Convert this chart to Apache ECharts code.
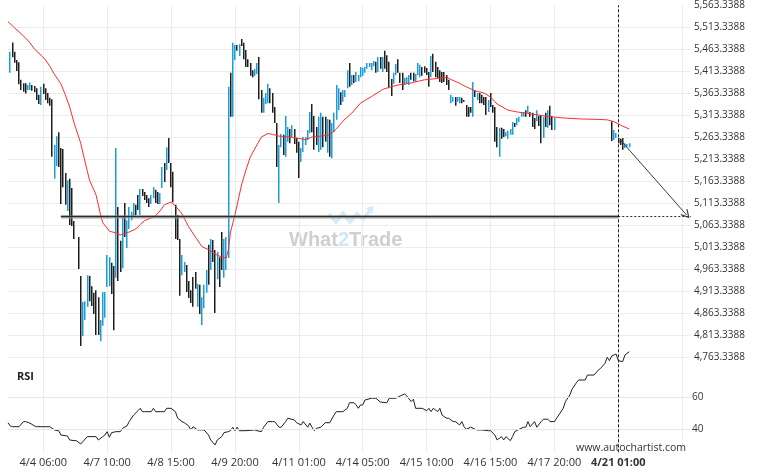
<!DOCTYPE html>
<html><head><meta charset="utf-8">
<script src="https://cdn.jsdelivr.net/npm/echarts@6/dist/echarts.min.js"></script>
<style>html,body{margin:0;padding:0;background:#fff}#c{width:760px;height:475px}</style>
</head><body><div id="c"></div>
<script>
// x tick labels (every 29 hourly bars, starting at bar 16)
const tickLabels = ['4/4 06:00','4/7 10:00','4/8 15:00','4/9 20:00','4/11 01:00','4/14 05:00','4/15 10:00','4/16 15:00','4/17 20:00','4/21 01:00'];
const firstTickBar = 16, barsPerTick = 29, barSlots = 311;
// price bars [open, close], starting at bar 1 (null = no bar)
const barsA = [
[5410,5458],[5479,5445],[5458,5433],[5439,5414],[5434,5384],[5394,5371],[5386,5367],[5386,5363],[5371,5382],[5371,5388],
[5382,5369],[5380,5366],[5375,5348],[5360,5339],[5337,5378],[5385,5362],[5375,5348],[5364,5341],[5353,5335],[5350,5219],
[5169,5246],[5198,5266],[5275,5196],[5239,5112],[5237,5150],[5182,5110],[5096,5166],[5169,5064],[5148,5062],[5073,5032],
null,[5037,4964],[4948,4789],[4812,4889],[4848,4891],[4878,4950],[4948,4891],[4925,4880],[4910,4862],[4916,4814],
[4900,4814],[4800,4848],[4835,4912],[4853,4912],[4923,4996],[4925,4991],[4978,4907],[4971,4825],[4944,5239],[5105,4937],
[5028,4957],[4966,5082],[5114,5037],[5012,5075],[5055,5105],[5075,5094],[5082,5114],[5110,5087],[5132,5098],[5087,5146],
[5146,5130],[5139,5121],[5132,5114],[5125,5105],[5112,5132],[5125,5150],[5144,5114],[5139,5112],[5112,5137],[5148,5196],
[5205,5162],[5189,5241],[5262,5205],[5205,5150],[5185,5116],[5110,5032],[5087,5030],[5032,4903],[4950,4996],[4957,4980],
[4973,4912],[4937,4898],[4916,4887],[4946,4878],[4957,4919],[4878,4930],[4928,4862],[4837,4900],[4875,4928],[4910,4962],
[5019,4928],[4962,5032],[5030,4980],[5007,4864],[4941,5003],[4991,4923],[5048,4962],[4944,5032],[4962,5037],[4989,5378],
[5410,5310],[5310,5478],[5439,5473],[5473,5460],[5448,5475],[5487,5471],[5478,5441],[5462,5423],[5441,5423],[5432,5403],
[5416,5400],[5403,5419],[5407,5432],[5446,5350],[5371,5319],[5319,5353],[5339,5364],[5341,5385],[5375,5341],[5364,5319],
[5332,5296],[5296,5196],[5114,5246],[5241,5271],[5269,5223],[5219,5312],[5253,5287],[5282,5250],[5264,5291],[5282,5248],
[5262,5228],[5253,5171],[5207,5239],[5230,5264],[5246,5264],[5257,5280],[5273,5321],[5339,5275],[5312,5235],[5287,5246],
[5230,5310],[5235,5319],[5310,5241],[5310,5253],[5228,5305],[5303,5219],[5216,5296],[5275,5319],[5303,5382],[5325,5375],
[5366,5337],[5344,5371],[5355,5371],[5375,5416],[5432,5378],[5382,5405],[5405,5387],[5389,5412],[5391,5405],[5400,5423],
[5403,5421],[5410,5423],[5419,5432],[5423,5432],[5416,5432],[5425,5437],[5435,5410],[5412,5446],[5446,5419],[5412,5446],
[5460,5419],[5450,5412],[5435,5375],[5396,5357],[5385,5410],[5405,5430],[5441,5410],[5410,5387],[5410,5371],[5382,5398],
[5387,5400],[5382,5405],[5410,5394],[5410,5391],[5389,5407],[5405,5432],[5400,5428],[5423,5403],[5425,5410],[5421,5405],
[5412,5378],[5400,5448],[5453,5412],[5435,5400],[5423,5398],[5416,5389],[5412,5387],[5412,5389],[5405,5382],[5394,5371],
[5341,5360],[5344,5355],[5355,5335],[5344,5355],[5341,5355],[5353,5341],[5348,5344],[5337,5310],[5332,5310],[5332,5319],
[5310,5389],[5371,5355],[5348,5364],[5364,5341],[5360,5341],[5355,5337],[5355,5314],[5321,5348],[5364,5332],[5337,5319],
[5332,5253],[5287,5241],[5219,5285],[5285,5260],[5282,5264],[5266,5275],[5260,5278],[5269,5282],[5269,5298],[5296,5287],
[5291,5307],[5298,5310],[5310,5319],[5310,5321],[5325,5310],[5319,5335],[5321,5310],[5319,5287],[5307,5282],[5300,5325],
[5312,5289],[5314,5250],[5262,5310],[5319,5287],[5285,5325],[5335,5291],[5312,5280],[5280,5307]
];
const barsAStart = 1;
const barsB = [[5300,5255],[5257,5280],[5262,5273],[5262,5250],[5260,5246],[5262,5235],[5239,5250],[5241,5248],[5241,5250]];
const barsBStart = 274;
// moving average [bar, price]
const maPts = [[0,5526],[3,5512],[5,5503],[8,5489],[10,5478],[12,5464],[15,5450],[17,5439],[19,5425],[21,5407],[24,5385],[26,5360],[28,5332],[30,5296],[33,5250],[35,5207],[37,5166],[40,5132],[42,5087],[43,5069],[45,5057],[46,5050],[49,5046],[51,5041],[53,5045],[55,5048],[58,5055],[60,5065],[62,5074],[65,5080],[67,5085],[69,5096],[71,5110],[74,5116],[76,5107],[79,5089],[82,5060],[85,5037],[88,5015],[91,5008],[94,4998],[97,4991],[99,4989],[100,5007],[101,5048],[103,5087],[106,5155],[108,5189],[110,5219],[113,5246],[115,5264],[118,5272],[120,5270],[123,5266],[126,5265],[129,5263],[132,5261],[135,5258],[138,5264],[142,5266],[146,5269],[149,5282],[151,5294],[153,5305],[156,5318],[160,5341],[165,5356],[170,5372],[173,5377],[177,5382],[183,5387],[189,5394],[195,5397],[199,5400],[201,5395],[205,5386],[208,5378],[212,5369],[216,5364],[219,5355],[222,5339],[227,5325],[231,5321],[237,5317],[242,5313],[246,5310],[253,5307],[260,5305],[268,5304],[272,5303],[275,5299],[278,5291],[282,5282]];
// RSI [bar, value]
const rsiPts = [[0,44.1],[1,42.1],[2,41.6],[5,41.6],[7,44.8],[8,44.8],[10,43.8],[12,42.1],[13,41.6],[16,41.6],[19,41.6],[21,39.6],[23,39.1],[24,36.4],[27,35.8],[28,33.3],[30,32.9],[31,32.9],[33,30.8],[34,32.3],[36,35.4],[39,35.4],[40,35.4],[41,33.3],[43,35.4],[44,36.4],[45,38.5],[46,35],[47,37.9],[49,38.5],[51,38.5],[52,40.6],[54,42.1],[55,44.8],[57,48.9],[59,51.6],[60,53.1],[61,51],[62,51],[65,51],[66,53.1],[67,51],[69,51],[71,51],[72,53.1],[74,53.1],[76,51],[77,46.9],[79,44.8],[80,44.1],[82,42.1],[83,39.6],[84,41.6],[86,39.6],[87,39.6],[89,39.6],[91,36.4],[92,33.3],[94,30.2],[95,33.3],[97,35.4],[98,37.9],[100,38.5],[101,39.1],[102,41.3],[103,39.1],[104,41.3],[105,39.1],[108,39.1],[112,39.6],[113,39.1],[115,38.5],[116,41.3],[118,44.8],[120,44.8],[121,44.8],[123,41.3],[124,41.3],[126,44.8],[127,46.9],[130,45.8],[131,44.1],[133,42.7],[134,44.8],[136,41.3],[137,43.8],[138,41.3],[139,39.1],[140,40.6],[142,41.3],[144,44.1],[146,44.1],[148,48.9],[149,51],[152,51],[153,52.1],[154,53.1],[155,56.6],[157,56.6],[158,55.2],[159,53.1],[160,55.2],[161,55.2],[162,58.3],[165,59.4],[167,59.4],[169,57],[172,56.6],[173,59.4],[176,59.4],[178,60.8],[180,62.1],[181,60.8],[183,57.3],[184,58.8],[185,53.1],[188,53.1],[190,51.6],[191,53.1],[192,51],[193,53.1],[195,51],[196,53.1],[197,48.9],[199,46.9],[200,46.9],[202,44.8],[203,44.8],[205,42.7],[206,44.8],[207,41.6],[208,40],[210,41.3],[212,40],[213,39.6],[215,39.6],[218,39.1],[219,39.1],[221,36.4],[222,33.3],[224,35.4],[225,33.3],[226,35.4],[228,32.9],[229,35.4],[230,38.5],[232,40],[234,41.3],[235,41.3],[236,44.8],[237,41.6],[239,44.8],[240,41.3],[242,44.8],[243,46.3],[245,46.3],[246,44.8],[248,44.8],[250,48.9],[252,53.1],[253,57.3],[255,61.4],[256,65],[258,69.1],[259,70.8],[262,70.8],[263,73.9],[266,73.9],[268,77.1],[269,78.1],[271,81.3],[272,85],[273,82.9],[274,85.8],[276,87.1],[277,82.9],[279,82.3],[280,86.4],[282,88.5]];
// annotations
const levelPrice = 5083.8, levelStartBar = 24, nowBar = 277;
const arrowFrom = [278, 5257.2], arrowTo = [308, 5086.8];
const rsiLevels = [40, 60];
const priceLabelOffset = 13.3388; // axis labels are x,x13.3388

const OFF = priceLabelOffset;
const UP = '#1a9ddb', DOWN = '#1e1e1e';
const cats = Array.from({length: barSlots}, (_, i) => 'b' + i);
const barData = [];
function put(list, start){ list.forEach((b,k)=>{ if(!b) return; const [o,c]=b; barData.push([start+k, o-OFF, c-OFF]); }); }
put(barsA, barsAStart); put(barsB, barsBStart);
const isTick = i => i >= firstTickBar && (i - firstTickBar) % barsPerTick === 0;
const FONT = "'Open Sans', sans-serif";
const fmtPrice = v => (v + OFF).toLocaleString('en-US',{minimumFractionDigits:4,maximumFractionDigits:4});
const arrowHead = 'path://M5,0 L10,9 L9,10 L5,2.6 L1,10 L0,9 Z';

function renderBar(params, api){
  const i = api.value(0), o = api.value(1), c = api.value(2);
  const p1 = api.coord([i, o]), p2 = api.coord([i, c]);
  const x = Math.round(p1[0] - 0.75);
  const y = Math.min(p1[1], p2[1]), h = Math.max(1, Math.abs(p2[1] - p1[1]));
  return {type:'rect', shape:{x:x, y:y, width:1.5, height:h}, style:{fill: c >= o ? UP : DOWN}};
}

const chart = echarts.init(document.getElementById('c'), null, {renderer:'canvas'});
chart.setOption({
  animation:false,
  grid:[{left:8,right:69,top:5.3,bottom:117.7},{left:8,right:69,top:357.3,bottom:22.7}],
  xAxis:[
    {type:'category',gridIndex:0,data:cats,boundaryGap:false,axisLine:{show:false},axisTick:{show:false},axisLabel:{show:false},
     splitLine:{show:true,interval:(i)=>isTick(i),lineStyle:{color:'#ececec',width:1}}},
    {type:'category',gridIndex:1,data:cats,boundaryGap:false,axisLine:{show:false},axisTick:{show:false},
     axisLabel:{show:true,interval:(i)=>isTick(i),margin:5,color:'#333',fontSize:11,fontFamily:FONT,
       formatter:(v,i)=>{const k=(i-firstTickBar)/barsPerTick; const t=tickLabels[k]; return k===tickLabels.length-1?'{b|'+t+'}':t;},
       rich:{b:{fontWeight:'bold',fontSize:11,fontFamily:FONT,color:'#333'}}},
     splitLine:{show:true,interval:(i)=>isTick(i),lineStyle:{color:'#ececec',width:1}}}
  ],
  yAxis:[
    {type:'value',gridIndex:0,position:'right',min:4750,max:5550,interval:50,scale:true,axisLine:{show:false},axisTick:{show:false},
     axisLabel:{margin:3,color:'#333',fontSize:10,fontFamily:FONT,formatter:fmtPrice},
     splitLine:{show:true,showMaxLine:false,lineStyle:{color:'#ececec',width:1}}},
    {type:'value',gridIndex:1,position:'right',min:25.6,max:85,axisLine:{show:false},axisTick:{show:false},axisLabel:{show:false},splitLine:{show:false}}
  ],
  series:[
    {type:'custom',xAxisIndex:0,yAxisIndex:0,data:barData,renderItem:renderBar,encode:{x:0,y:[1,2]},z:2},
    {type:'line',xAxisIndex:0,yAxisIndex:0,data:maPts.map(([i,p])=>[i,p-OFF]),showSymbol:false,symbol:'none',
     lineStyle:{color:'#ff2b2b',width:1},z:3,
     markLine:{silent:true,symbol:'none',label:{show:false},animation:false,data:[
       [{coord:[levelStartBar,levelPrice-OFF],lineStyle:{color:'#a0a0a0',width:3.6,type:'solid',opacity:0.65}},{coord:[nowBar,levelPrice-OFF]}],
       [{coord:[levelStartBar,levelPrice-OFF],lineStyle:{color:'#2a2a2a',width:1.4,type:'solid'}},{coord:[nowBar,levelPrice-OFF]}],
       [{coord:[nowBar,levelPrice-OFF],lineStyle:{color:'#123247',width:1,type:[2,2]}},{coord:[barSlots-1,levelPrice-OFF]}],
       {xAxis:nowBar,lineStyle:{color:'#0b2436',width:1,type:[3,2]}},
       [{coord:[arrowFrom[0],arrowFrom[1]-OFF],lineStyle:{color:'#3a3a3a',width:1,type:'solid'}},
        {coord:[arrowTo[0],arrowTo[1]-OFF],symbol:arrowHead,symbolSize:[9,9]}]
     ]}},
    {type:'line',xAxisIndex:1,yAxisIndex:1,data:rsiPts,showSymbol:false,symbol:'none',clip:false,
     lineStyle:{color:'#1f1f1f',width:1},
     markLine:{silent:true,symbol:'none',animation:false,data:[
       ...rsiLevels.map(v=>({yAxis:v,lineStyle:{color:'#e6e6e6',width:1,type:'solid'},
          label:{show:true,position:'end',distance:1,formatter:String(v),color:'#333',fontSize:10,fontFamily:FONT}})),
       {xAxis:nowBar,lineStyle:{color:'#0b2436',width:1,type:[3,2]},label:{show:false}}
     ]}}
  ],
  graphic:[
    {type:'text',left:17,top:371,z:10,style:{text:'RSI',font:"bold 11px 'Open Sans', sans-serif",fill:'#222'}},
    {type:'text',left:576,top:443,z:10,style:{text:'www.autochartist.com',font:"10.5px 'Open Sans', sans-serif",fill:'#333'}},
    {type:'text',left:289,top:230,z:0,style:{text:'{a|What}{b|2}{a|Trade}',rich:{
      a:{fontSize:20,fontWeight:'bold',fontFamily:"'Liberation Sans', Arial, sans-serif",fill:'#cfcfcf'},
      b:{fontSize:20,fontWeight:'bold',fontFamily:"'Liberation Sans', Arial, sans-serif",fill:'#cfe7f7'}}}},
    {type:'polyline',z:0,shape:{points:[[329,214],[336,222],[343,213],[350,222],[357,214],[363,219],[371,209]]},
     style:{stroke:'#d3eaf8',lineWidth:3.5,fill:null}},
    {type:'polygon',z:0,shape:{points:[[366,208],[374,206],[372,214]]},style:{fill:'#d3eaf8'}}
  ]
});
</script></body></html>
